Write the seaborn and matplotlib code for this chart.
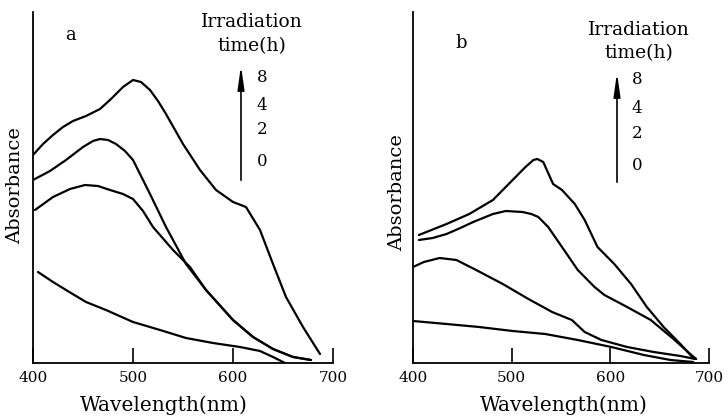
import numpy as np
import pandas as pd
import matplotlib
matplotlib.use("Agg")
import matplotlib.pyplot as plt
import seaborn as sns

# ---------------- data (arbitrary absorbance units) ----------------
times = ["8", "4", "2", "0"]

a_wl_8 = [400, 410, 420, 430, 440, 453, 467, 478, 490, 500, 508, 517, 525, 533, 550, 567, 583, 600, 613, 627, 640, 653, 670, 687]
a_ab_8 = [208, 219, 228, 236, 242, 247, 254, 264, 276, 283, 281, 273, 262, 249, 219, 193, 173, 161, 156, 133, 99, 66, 36, 9]
a_wl_4 = [400, 417, 433, 450, 460, 467, 475, 483, 492, 500, 517, 533, 553, 573, 600, 620, 640, 660, 678]
a_ab_4 = [183, 192, 203, 216, 222, 224, 223, 219, 212, 203, 169, 136, 99, 73, 43, 26, 14, 6, 3]
a_wl_2 = [402, 420, 437, 452, 465, 477, 490, 500, 510, 520, 540, 557, 573, 600, 620, 640, 660, 678]
a_ab_2 = [153, 166, 174, 178, 177, 173, 169, 164, 152, 136, 113, 96, 73, 43, 26, 14, 6, 3]
a_wl_0 = [405, 420, 433, 453, 473, 500, 527, 553, 580, 607, 627, 640, 652]
a_ab_0 = [91, 81, 73, 61, 53, 41, 33, 25, 20, 16, 12, 6, 0]

b_wl_8 = [406, 434, 457, 481, 497, 514, 522, 526, 532, 542, 551, 564, 574, 587, 604, 621, 637, 654, 671, 684]
b_ab_8 = [128, 139, 149, 163, 179, 196, 203, 204, 201, 179, 173, 159, 143, 116, 99, 79, 56, 36, 19, 5]
b_wl_4 = [406, 420, 434, 448, 461, 481, 494, 511, 520, 527, 537, 551, 567, 584, 594, 617, 641, 664, 681, 687]
b_ab_4 = [123, 125, 129, 135, 141, 149, 152, 151, 149, 146, 136, 116, 93, 76, 68, 56, 43, 24, 9, 4]
b_wl_2 = [400, 411, 427, 444, 464, 491, 517, 541, 561, 574, 591, 617, 644, 671, 686]
b_ab_2 = [96, 101, 105, 103, 93, 79, 64, 51, 43, 31, 23, 16, 11, 7, 4]
b_wl_0 = [400, 434, 467, 501, 534, 567, 601, 634, 661, 684]
b_ab_0 = [42, 39, 36, 32, 29, 23, 16, 8, 3, 1]

xticks = [400, 500, 600, 700]

def frame(pairs):
    rows = []
    for t, (wl, ab) in zip(times, pairs):
        for w, v in zip(wl, ab):
            rows.append({"time": t, "wl": w, "abs": v})
    return pd.DataFrame(rows)

df_a = frame([(a_wl_8, a_ab_8), (a_wl_4, a_ab_4), (a_wl_2, a_ab_2), (a_wl_0, a_ab_0)])
df_b = frame([(b_wl_8, b_ab_8), (b_wl_4, b_ab_4), (b_wl_2, b_ab_2), (b_wl_0, b_ab_0)])

# ---------------- style ----------------
sns.set_style("ticks")
plt.rcParams["font.family"] = ["DejaVu Serif"]
plt.rcParams["text.color"] = "black"
plt.rcParams["axes.labelcolor"] = "black"
plt.rcParams["xtick.color"] = "black"
plt.rcParams["xtick.labelcolor"] = "black"

W, H = 728, 417
fig = plt.figure(figsize=(W / 100, H / 100), dpi=100)

def px_axes(x0, x1, y0, y1):
    return fig.add_axes([x0 / W, 1 - y1 / H, (x1 - x0) / W, (y1 - y0) / H])

ax_a = px_axes(33, 333, 12, 363)
ax_b = px_axes(413, 709, 12, 363)

for ax, df, xl_center in [(ax_a, df_a, 164), (ax_b, df_b, 564)]:
    sns.lineplot(data=df, x="wl", y="abs", units="time", estimator=None,
                 color="black", linewidth=1.6, sort=False, ax=ax, legend=False)
    ax.set_xlim(400, 700)
    ax.set_ylim(0, 351)
    ax.set_xticks(xticks)
    ax.set_xticklabels([str(t) for t in xticks], fontsize=11, color="black")
    ax.set_yticks([])
    ax.tick_params(axis="x", direction="in", length=11, width=1.2, pad=6, colors="black")
    for s in ["top", "right"]:
        ax.spines[s].set_visible(False)
    for s in ["left", "bottom"]:
        ax.spines[s].set_linewidth(1.3)
        ax.spines[s].set_color("black")
    ax.set_xlabel("Wavelength(nm)", fontsize=14.5, color="black")
    ax.set_ylabel("Absorbance", fontsize=14, color="black")
    ax.patch.set_alpha(0)
    x0 = ax.get_position().x0 * W
    wpx = ax.get_position().width * W
    ax.xaxis.set_label_coords((xl_center - x0) / wpx, (363 - 405) / 351)
    ax.xaxis.label.set_va("center")

ax_a.yaxis.set_label_coords((15 - 33) / 300, (363 - 186) / 351)
ax_b.yaxis.set_label_coords((397 - 413) / 296, (363 - 193) / 351)
ax_a.yaxis.label.set_va("center")
ax_b.yaxis.label.set_va("center")

fig.text(70 / W, 1 - 35 / H, "a", fontsize=13, ha="center", va="center")
fig.text(461 / W, 1 - 43 / H, "b", fontsize=13, ha="center", va="center")

# irradiation-time key with arrow
def time_key(cx, y1, y2, lx, line_x, ly0, ly1, label_ys):
    fig.text(cx / W, 1 - y1 / H, "Irradiation", fontsize=13.5, ha="center", va="center")
    fig.text(cx / W, 1 - y2 / H, "time(h)", fontsize=13.5, ha="center", va="center")
    fig.add_artist(matplotlib.patches.FancyArrowPatch(
        (line_x / W, 1 - ly1 / H), (line_x / W, 1 - ly0 / H),
        transform=fig.transFigure, arrowstyle="-|>,head_length=14,head_width=2.0",
        color="black", linewidth=1.2, mutation_scale=1))
    for t, y in zip(times, label_ys):
        fig.text(lx / W, 1 - y / H, t, fontsize=12, ha="center", va="center")

time_key(252, 22, 46, 262, 241, 63, 183, [77, 105, 130, 161])
time_key(639, 30, 53, 637, 617, 70, 185, [80, 109, 134, 165])

fig.savefig("out.png", dpi=100)
